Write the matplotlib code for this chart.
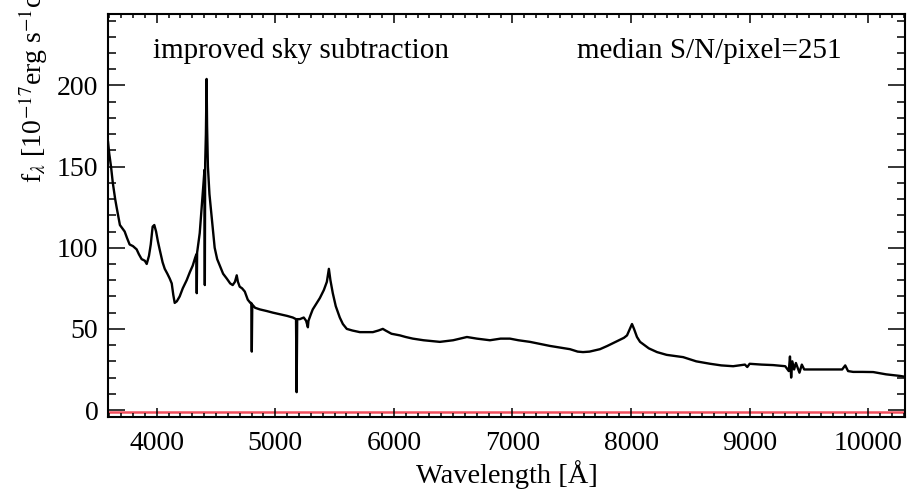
import matplotlib
matplotlib.use("Agg")
import matplotlib.pyplot as plt
from matplotlib.ticker import MultipleLocator

plt.rcParams['font.family'] = ['Liberation Serif', 'DejaVu Serif']
plt.rcParams['mathtext.fontset'] = 'stix'

# Quasar spectrum: wavelength [A] and flux density [1e-17 erg/s/cm^2/A]
wavelength = [
    3590, 3600, 3615, 3630, 3650, 3662, 3690, 3730, 3750, 3772, 3800, 3831, 3850,
    3873, 3900, 3916, 3935, 3950, 3966, 3980, 3995, 4010, 4025, 4050, 4068, 4090,
    4110, 4127, 4140, 4152, 4170, 4194, 4220, 4253, 4280, 4304, 4325, 4335, 4338,
    4341, 4363, 4380, 4395, 4403, 4406, 4409, 4415, 4421, 4425, 4432, 4445, 4464,
    4489, 4510, 4532, 4560, 4591, 4620, 4641, 4660, 4675, 4685, 4700, 4720, 4743,
    4768, 4790, 4798, 4802, 4806, 4830, 4870, 4928, 4980, 5038, 5100, 5148, 5175,
    5180, 5185, 5207, 5240, 5260, 5275, 5280, 5300, 5316, 5350, 5376, 5410, 5435,
    5452, 5465, 5485, 5510, 5544, 5570, 5603, 5650, 5713, 5780, 5823, 5870, 5907,
    5930, 5980, 6051, 6100, 6160, 6250, 6388, 6500, 6616, 6700, 6810, 6900, 6979,
    7050, 7148, 7250, 7316, 7400, 7485, 7550, 7595, 7650, 7738, 7800, 7882, 7940,
    7966, 7990, 8008, 8025, 8050, 8076, 8150, 8219, 8300, 8439, 8550, 8667, 8761,
    8861, 8960, 8980, 9000, 9100, 9198, 9300, 9330, 9340, 9350, 9360, 9375, 9390,
    9420, 9440, 9460, 9485, 9600, 9705, 9780, 9806, 9830, 9873, 9950, 10042, 10150,
    10270, 10310,
]
flux = [
    165, 158, 150, 140, 130, 125, 114, 110, 106, 102, 101, 99, 96,
    93, 92, 90, 95, 102, 113, 114, 110, 104, 99, 91, 87, 84,
    81, 78, 71, 66, 67, 70, 75, 80, 85, 89, 94, 96, 72,
    97, 109, 125, 140, 148, 77, 152, 170, 204, 175, 150, 133, 119,
    100, 93, 89, 84, 81, 78, 77, 79, 83, 79, 76, 75, 73,
    68, 66, 66, 36, 65, 63, 62, 61, 60, 59, 58, 57, 56,
    11, 56, 56, 57, 55, 51, 55, 59, 62, 66, 69, 74, 79,
    87, 80, 72, 64, 57, 53, 50, 49, 48, 48, 48, 49, 50,
    49, 47, 46, 45, 44, 43, 42, 43, 45, 44, 43, 44, 44,
    43, 42, 40.5, 39.5, 38.5, 37.5, 36, 35.7, 36, 37.5, 39.5, 42.4, 44.5,
    46, 50, 53, 50, 45, 42, 38, 35.7, 34, 32.6, 30, 28.5, 27.5,
    27, 28, 26.5, 28.5, 28, 27.7, 27, 24, 33, 20, 30, 25, 29,
    23, 28, 25, 25, 25, 25, 25, 27.5, 24, 23.5, 23.5, 23.4, 22,
    21, 20.5,
]

# Flux uncertainty, near zero across the band
err_wavelength = [3590, 10310]
err_flux = [-1.5, -1.5]

W, H = 908, 492
fig = plt.figure(figsize=(W / 100, H / 100), dpi=100)
ax = fig.add_axes([0.119, 0.1524, 0.8777, 0.8191])

ax.plot(err_wavelength, err_flux, color='#f03040', lw=1.8, alpha=0.85, zorder=1)
ax.plot(wavelength, flux, color='black', lw=1.7, zorder=2)

ax.set_xlim(3590, 10310)
ax.set_ylim(-4.3, 244)

ax.xaxis.set_major_locator(MultipleLocator(1000))
ax.xaxis.set_minor_locator(MultipleLocator(100))
ax.yaxis.set_major_locator(MultipleLocator(50))
ax.yaxis.set_minor_locator(MultipleLocator(10))

ax.tick_params(axis='both', which='both', direction='in',
               top=True, right=True, width=1.1, colors='black',
               labelsize=20)
ax.tick_params(axis='x', which='major', length=6.5, pad=10)
ax.tick_params(axis='x', which='minor', length=3.2)
ax.tick_params(axis='y', which='major', length=12.5, pad=7)
ax.tick_params(axis='y', which='minor', length=6)
for s in ax.spines.values():
    s.set_linewidth(1.5)

ax.set_xlabel('Wavelength [Å]', fontsize=20.5, labelpad=3)

fig.text(153 / W, 1 - 58 / H, 'improved sky subtraction',
         fontsize=21, ha='left', va='baseline')
fig.text(577 / W, 1 - 58 / H, 'median S/N/pixel=251',
         fontsize=21, ha='left', va='baseline')

fig.text(33 / W, 1 - 183 / H,
         r'f$_\lambda$ [10$^{-17}$erg s$^{-1}$cm$^{-2}$Å$^{-1}$]',
         rotation=90, ha='center', va='bottom', fontsize=20)

fig.savefig('out.png', dpi=100)
